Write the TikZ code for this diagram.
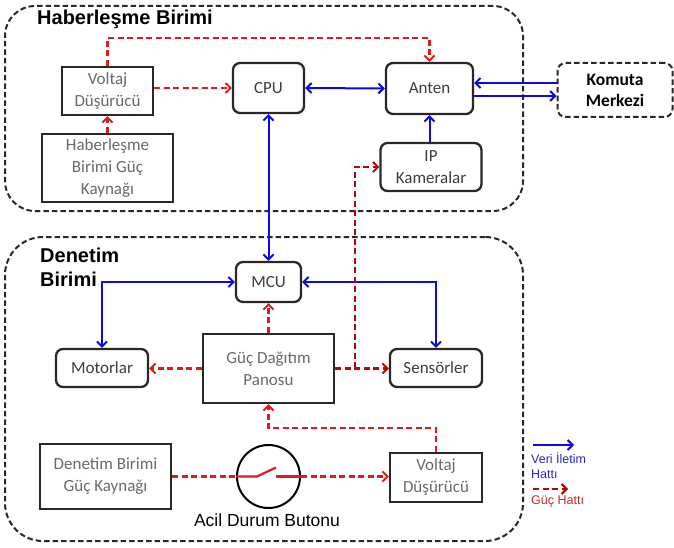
\documentclass[tikz,border=0pt]{standalone}
\usepackage{fontspec}
\setmainfont{Carlito}
\newfontfamily\arialf{Liberation Sans}
\usetikzlibrary{arrows.meta}
\definecolor{bred}{RGB}{225,25,25}
\definecolor{dred}{RGB}{175,10,10}
\definecolor{bblue}{RGB}{10,10,225}
\definecolor{boxline}{RGB}{40,40,40}
\definecolor{txtgray}{RGB}{105,105,105}
\definecolor{txtdark}{RGB}{60,60,60}
\definecolor{legblue}{RGB}{40,40,200}
\definecolor{legred}{RGB}{200,40,40}
\tikzset{
  >={Straight Barb[length=5pt,width=10pt,line width=2pt]},
  sharpbox/.style={draw=boxline, line width=2.3pt, inner sep=0pt, align=center,
    text=txtgray, font=\fontsize{17}{22}\selectfont},
  roundbox/.style={sharpbox, rounded corners=7pt, text=txtdark},
  container/.style={draw=boxline, line width=2pt, dash pattern=on 5.5pt off 3pt, inner sep=0pt},
  data/.style={draw=bblue, line width=2pt},
  power/.style={draw=bred, line width=2.2pt, dash pattern=on 6pt off 3.5pt},
  dpower/.style={power, draw=dred},
  titletext/.style={inner sep=0pt, font=\arialf\bfseries\fontsize{20}{24}\selectfont, text=black}
}
\begin{document}
\begin{tikzpicture}[x=1pt,y=-1pt]
\useasboundingbox (0,0) rectangle (674,548);
% containers
\node[container, rounded corners=30pt, minimum width=518pt, minimum height=205pt] (hb) at (264,108.5) {};
\node[container, rounded corners=38pt, minimum width=518pt, minimum height=304pt] (db) at (264,389) {};
\node[titletext, anchor=west] (hbt) at (37,19) {Haberleşme Birimi};
\node[titletext, anchor=north west, align=left] (dbt) at (40,247.5) {Denetim\\Birimi};
% top unit
\node[sharpbox, minimum width=91pt, minimum height=48pt] (v1) at (107.5,91) {Voltaj\\Düşürücü};
\node[roundbox, minimum width=71pt, minimum height=50pt] (cpu) at (268.5,88) {CPU};
\node[roundbox, minimum width=87pt, minimum height=51pt] (anten) at (429.5,88.5) {Anten};
\node[container, rounded corners=8pt, minimum width=115pt, minimum height=54pt, align=center,
  font=\bfseries\fontsize{17.5}{21}\selectfont] (km) at (615,90) {Komuta\\Merkezi};
\node[sharpbox, minimum width=131pt, minimum height=68pt] (hg) at (107.5,168) {Haberleşme\\Birimi Güç\\Kaynağı};
\node[roundbox, minimum width=101pt, minimum height=48pt] (ip) at (431,167) {IP\\Kameralar};
% bottom unit
\node[roundbox, minimum width=65pt, minimum height=40pt] (mcu) at (268.5,282) {MCU};
\node[roundbox, minimum width=92pt, minimum height=38pt] (mot) at (102,368) {Motorlar};
\node[sharpbox, minimum width=131pt, minimum height=69pt] (gdp) at (268.5,368.5) {Güç Dağıtım\\Panosu};
\node[roundbox, minimum width=92pt, minimum height=38pt] (sens) at (436,368) {Sensörler};
\node[sharpbox, minimum width=131pt, minimum height=65pt] (dg) at (105.5,476.5) {Denetim Birimi\\Güç Kaynağı};
\node[sharpbox, minimum width=92pt, minimum height=49pt] (v2) at (436,477.5) {Voltaj\\Düşürücü};
\node[circle, draw=black, line width=2pt, minimum size=63pt, inner sep=0pt] (sw) at (268.5,476.5) {};
\node[inner sep=0pt, font=\arialf\fontsize{17.5}{20}\selectfont, text=black] (swl) at (267,520) {Acil Durum Butonu};
% power lines (top)
\draw[power,->] (v1.north) -- (v1.north |- 0,38) -| (anten.north);
\draw[power,->] (v1.east |- cpu.west) -- (cpu.west);
\draw[power,->] (hg.north) -- (v1.south);
% data lines (top)
\draw[data,<->] (cpu.east) -- (anten.west);
\draw[data,->] (km.west |- 0,83) -- (anten.east |- 0,83);
\draw[data,->] (anten.east |- 0,96) -- (km.west |- 0,96);
\draw[data,->] (anten.south |- ip.north) -- (anten.south);
\draw[data,<->] (cpu.south) -- (mcu.north);
% bottom data lines
\draw[data,<->] (mcu.west) -| (mot.north);
\draw[data,<->] (mcu.east) -| (sens.north);
% bottom power lines
\coordinate (br) at (355,368);
\draw[dpower,->] (br) |- (ip.west);
\draw[power,->] (gdp.north) -- (mcu.south);
\draw[power,->] (gdp.west) -- (gdp.west -| mot.east);
\draw[dpower,->] (gdp.east) -- (gdp.east -| sens.west);
\draw[power,->] (v2.north) |- (gdp.south |- 0,428) -- (gdp.south);
% switch
\draw[power] (dg.east |- sw.west) -- (sw.west);
\draw[bred, line width=2.2pt] (sw.west) -- ++(21,0) -- ++(19,-9);
\draw[bred, line width=2.2pt] (sw.east) -- ++(-25,0);
\draw[power,->] (sw.east) -- (sw.east -| v2.west);
% legend
\coordinate (l1a) at (533,445);
\coordinate (l1b) at (574,445);
\draw[data, line width=2.4pt,->] (l1a) -- (l1b);
\node[anchor=north west, inner sep=0pt, align=left, text=legblue, font=\arialf\fontsize{12.5}{15}\selectfont] (l1t) at (531,452) {Veri İletim\\Hattı};
\coordinate (l2a) at (533,489);
\coordinate (l2b) at (568,489);
\draw[dpower,->] (l2a) -- (l2b);
\node[anchor=north west, inner sep=0pt, align=left, text=legred, font=\arialf\fontsize{12.5}{15}\selectfont] (l2t) at (531,496) {Güç Hattı};
\end{tikzpicture}
\end{document}
